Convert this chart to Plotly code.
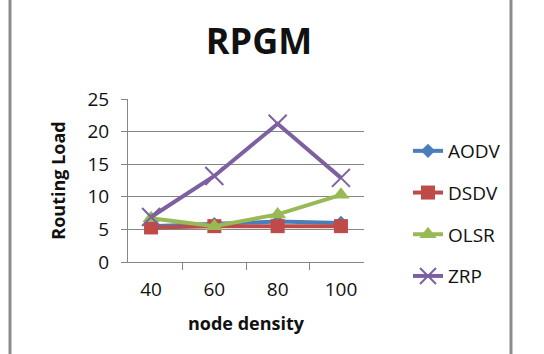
import plotly.graph_objects as go

categories = ["40", "60", "80", "100"]
aodv = [5.5, 5.8, 6.2, 6.0]
dsdv = [5.3, 5.5, 5.5, 5.5]
olsr = [6.7, 5.5, 7.3, 10.3]
zrp = [6.9, 13.2, 21.2, 12.9]

W, H = 544, 354
FONT = "Open Sans"

series = [
    ("AODV", aodv, "#4A7EBB", dict(symbol="diamond", size=11)),
    ("DSDV", dsdv, "#BE4B48", dict(symbol="square", size=14)),
    ("OLSR", olsr, "#98B954", dict(symbol="triangle-up", size=15)),
    ("ZRP", zrp, "#7D60A0", dict(symbol="x-thin", size=18, line=dict(width=2, color="#7D60A0"))),
]

fig = go.Figure()
for name, vals, color, mk in series:
    fig.add_trace(go.Scatter(
        x=categories, y=vals, name=name, mode="lines+markers",
        line=dict(color=color, width=4), marker=dict(color=color, **mk),
        legendgroup=name,
    ))

fig.update_layout(
    width=W, height=H,
    margin=dict(l=0, r=0, t=0, b=0, autoexpand=False),
    paper_bgcolor="white", plot_bgcolor="white",
    font=dict(family=FONT, color="#111111"),
    title=dict(text="<b>RPGM</b>", x=259 / W, xanchor="center", y=1 - 41 / H, yanchor="middle",
               font=dict(size=36, family=FONT, color="#111111")),
    showlegend=True,
    legend=dict(x=408 / W, y=1 - 132 / H, xanchor="left", yanchor="top",
                font=dict(size=19, family=FONT, color="#111111"),
                tracegroupgap=14, traceorder="grouped", bgcolor="rgba(0,0,0,0)"),
    xaxis=dict(domain=[128 / W, 364 / W], type="category", showgrid=False, automargin=False,
               showline=True, linecolor="#868686", linewidth=1,
               ticks="outside", ticklen=7, tickcolor="#868686", tickson="boundaries",
               ticklabelstandoff=10,
               tickfont=dict(size=19, family=FONT, color="#111111"),
               title=dict(text="<b>node density</b>", font=dict(size=18, family=FONT, color="#111111"), standoff=16)),
    yaxis=dict(domain=[(H - 262) / H, (H - 99) / H], range=[0, 25], dtick=5, automargin=False,
               showgrid=True, gridcolor="#868686", gridwidth=1,
               showline=True, linecolor="#868686", linewidth=1,
               ticks="outside", ticklen=6, tickcolor="#868686",
               ticklabelstandoff=8,
               tickfont=dict(size=19, family=FONT, color="#111111"),
               title=dict(text="<b>Routing Load</b>", font=dict(size=18, family=FONT, color="#111111"), standoff=17),
               zeroline=False),
    shapes=[
        dict(type="line", xref="paper", yref="paper", x0=10 / W, x1=10 / W, y0=0, y1=1,
             line=dict(color="#8c8c8c", width=3)),
        dict(type="line", xref="paper", yref="paper", x0=511 / W, x1=511 / W, y0=0, y1=1,
             line=dict(color="#8c8c8c", width=3)),
    ],
)

fig.write_html("out.html")
